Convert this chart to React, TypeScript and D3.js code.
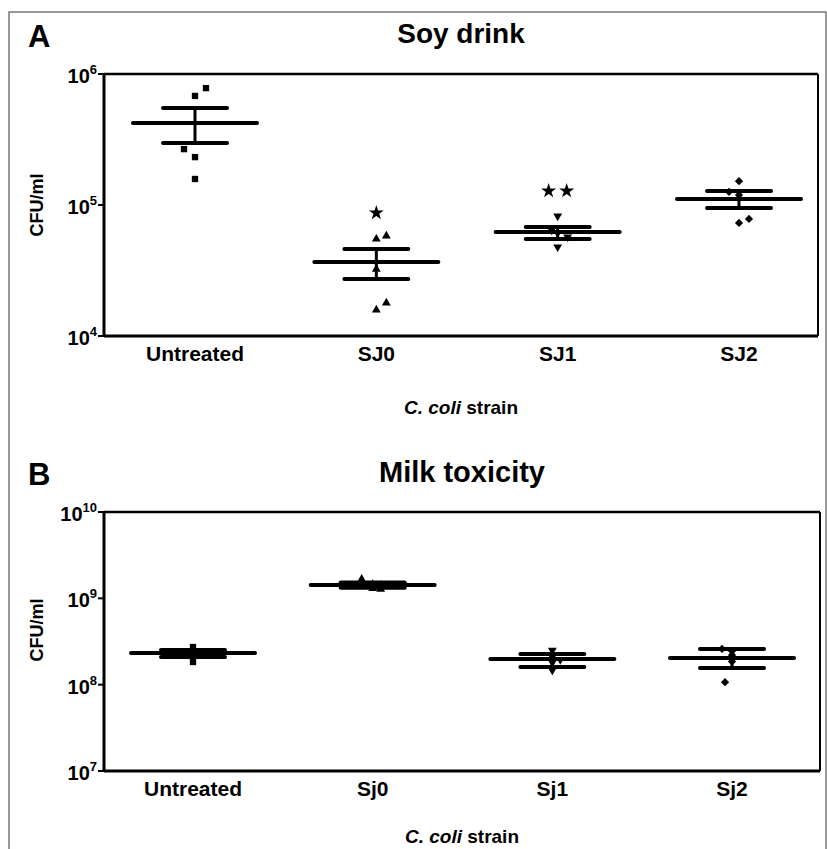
import React from "react";
import * as d3 from "d3";

const groupsA = ["Untreated", "SJ0", "SJ1", "SJ2"];
const groupsB = ["Untreated", "Sj0", "Sj1", "Sj2"];

const pointsA = [
  [7.8e5, 6.8e5, 2.67e5, 2.32e5, 1.58e5],
  [5.8e4, 5.5e4, 3.24e4, 1.79e4, 1.58e4],
  [8.24e4, 6.44e4, 6.11e4, 5.7e4, 4.78e4],
  [1.52e5, 1.26e5, 1.19e5, 7.82e4, 7.29e4],
];
const jitterA = [
  [11, 0, -11, 0, 0],
  [10, 0, 0, 10, 0],
  [0, -6, 0, 10, 0],
  [0, -10, 0, 10, 0],
];
const meanA = [4.23e5, 3.67e4, 6.22e4, 1.11e5];
const semLoA = [2.97e5, 2.72e4, 5.5e4, 9.5e4];
const semHiA = [5.5e5, 4.62e4, 6.8e4, 1.28e5];
const starsA = [0, 1, 2, 0];
const starValA = [0, 8.7e4, 1.28e5, 0];
const ticksA = [4, 5, 6];

const pointsB = [
  [2.73e8, 2.45e8, 2.3e8, 2.2e8, 1.83e8],
  [1.67e9, 1.45e9, 1.42e9, 1.3e9, 1.28e9],
  [2.5e8, 2.1e8, 1.95e8, 1.8e8, 1.47e8],
  [2.59e8, 2.45e8, 2.2e8, 1.85e8, 1.07e8],
];
const jitterB = [
  [0, 0, 0, 0, 0],
  [-11, 0, 8, 0, 8],
  [0, 0, 8, 0, 0],
  [-10, 0, 0, 0, -7],
];
const meanB = [2.32e8, 1.43e9, 1.98e8, 2.03e8];
const semLoB = [2.09e8, 1.33e9, 1.6e8, 1.56e8];
const semHiB = [2.52e8, 1.53e9, 2.27e8, 2.59e8];
const starsB = [0, 0, 0, 0];
const starValB = [0, 0, 0, 0];
const ticksB = [7, 8, 9, 10];

const FONT = "'Liberation Sans', Arial, Helvetica, sans-serif";

const symPaths = [
  { p: d3.symbol(d3.symbolSquare, 40)() as string, r: 0 },
  { p: d3.symbol(d3.symbolTriangle, 34)() as string, r: 0 },
  { p: d3.symbol(d3.symbolTriangle, 34)() as string, r: 180 },
  { p: d3.symbol(d3.symbolSquare, 34)() as string, r: 45 },
];
const starPath = d3.symbol(d3.symbolStar, 70)() as string;

type PanelProps = {
  letter: string;
  title: string;
  titleY: number;
  letterY: number;
  titleSize: number;
  groups: string[];
  points: number[][];
  jitter: number[][];
  mean: number[];
  semLo: number[];
  semHi: number[];
  stars: number[];
  starVal: number[];
  ticks: number[];
  box: { x0: number; x1: number; y0: number; y1: number };
  centers: [number, number];
  labelY: number;
  axisTitleY: number;
  yLabelY: number;
};

function Panel(p: PanelProps) {
  const { box } = p;
  const y = d3
    .scaleLog()
    .domain([Math.pow(10, p.ticks[0]), Math.pow(10, p.ticks[p.ticks.length - 1])])
    .range([box.y1, box.y0]);
  const x = d3.scalePoint<string>().domain(p.groups).range(p.centers);
  const meanHalf = 62;
  const capHalf = 32;
  return (
    <g>
      <text x={28} y={p.letterY} fontFamily={FONT} fontWeight="bold" fontSize={31}>
        {p.letter}
      </text>
      <text
        x={(box.x0 + box.x1) / 2}
        y={p.titleY}
        textAnchor="middle"
        fontFamily={FONT}
        fontWeight="bold"
        fontSize={p.titleSize}
      >
        {p.title}
      </text>
      {/* box */}
      <line x1={box.x0} x2={box.x1} y1={box.y0} y2={box.y0} stroke="#000" strokeWidth={2.5} />
      <line x1={box.x1} x2={box.x1} y1={box.y0} y2={box.y1} stroke="#000" strokeWidth={2} />
      <line x1={box.x0} x2={box.x1} y1={box.y1} y2={box.y1} stroke="#000" strokeWidth={3} />
      <line x1={box.x0} x2={box.x0} y1={box.y0} y2={box.y1} stroke="#000" strokeWidth={3} />
      {/* y ticks */}
      {p.ticks.map((e) => {
        const ty = y(Math.pow(10, e));
        return (
          <g key={e}>
            <line x1={box.x0 - 6} x2={box.x0} y1={ty} y2={ty} stroke="#000" strokeWidth={2} />
            <text
              x={box.x0 - 7}
              y={ty + 9}
              textAnchor="end"
              fontFamily={FONT}
              fontWeight="bold"
              fontSize={20}
            >
              10
              <tspan dy={-9} fontSize={13}>
                {String(e)}
              </tspan>
            </text>
          </g>
        );
      })}
      <text
        transform={`translate(43,${p.yLabelY}) rotate(-90)`}
        textAnchor="middle"
        fontFamily={FONT}
        fontWeight="bold"
        fontSize={18}
      >
        CFU/ml
      </text>
      {/* x labels */}
      {p.groups.map((g) => (
        <text
          key={g}
          x={x(g)}
          y={p.labelY}
          textAnchor="middle"
          fontFamily={FONT}
          fontWeight="bold"
          fontSize={21}
        >
          {g}
        </text>
      ))}
      <text
        x={(box.x0 + box.x1) / 2}
        y={p.axisTitleY}
        textAnchor="middle"
        fontFamily={FONT}
        fontWeight="bold"
        fontSize={19}
      >
        <tspan fontStyle="italic">C. coli</tspan> strain
      </text>
      {/* data */}
      {p.groups.map((g, i) => {
        const cx = x(g) as number;
        const sym = symPaths[i];
        return (
          <g key={g}>
            {p.points[i].map((v, j) => (
              <path
                key={j}
                d={sym.p}
                transform={`translate(${cx + p.jitter[i][j]},${y(v)}) rotate(${sym.r})`}
                fill="#000"
              />
            ))}
            <line x1={cx} x2={cx} y1={y(p.semLo[i])} y2={y(p.semHi[i])} stroke="#000" strokeWidth={3} />
            <line
              x1={cx - meanHalf}
              x2={cx + meanHalf}
              y1={y(p.mean[i])}
              y2={y(p.mean[i])}
              stroke="#000"
              strokeWidth={4}
              strokeLinecap="round"
            />
            {[p.semLo[i], p.semHi[i]].map((v, k) => (
              <line
                key={k}
                x1={cx - capHalf}
                x2={cx + capHalf}
                y1={y(v)}
                y2={y(v)}
                stroke="#000"
                strokeWidth={4}
                strokeLinecap="round"
              />
            ))}
            {d3.range(p.stars[i]).map((k) => (
              <path
                key={k}
                d={starPath}
                transform={`translate(${cx + (k - (p.stars[i] - 1) / 2) * 18},${y(p.starVal[i])})`}
                fill="#000"
              />
            ))}
          </g>
        );
      })}
    </g>
  );
}

export default function App() {
  return (
    <svg width={827} height={849} style={{ position: "absolute", left: 0, top: 0, background: "#fff" }}>
      <rect x={0} y={0} width={827} height={849} fill="#fff" />
      <rect x={9} y={12} width={817} height={860} fill="none" stroke="#555" strokeWidth={1.2} />
      <Panel
        letter="A"
        title="Soy drink"
        titleY={43}
        letterY={47}
        titleSize={28}
        groups={groupsA}
        points={pointsA}
        jitter={jitterA}
        mean={meanA}
        semLo={semLoA}
        semHi={semHiA}
        stars={starsA}
        starVal={starValA}
        ticks={ticksA}
        box={{ x0: 104, x1: 818, y0: 74, y1: 336 }}
        centers={[195, 739]}
        labelY={361}
        axisTitleY={414}
        yLabelY={205}
      />
      <Panel
        letter="B"
        title="Milk toxicity"
        titleY={482}
        letterY={485}
        titleSize={29}
        groups={groupsB}
        points={pointsB}
        jitter={jitterB}
        mean={meanB}
        semLo={semLoB}
        semHi={semHiB}
        stars={starsB}
        starVal={starValB}
        ticks={ticksB}
        box={{ x0: 104, x1: 820, y0: 512, y1: 771 }}
        centers={[193, 732]}
        labelY={796}
        axisTitleY={843}
        yLabelY={630}
      />
    </svg>
  );
}
